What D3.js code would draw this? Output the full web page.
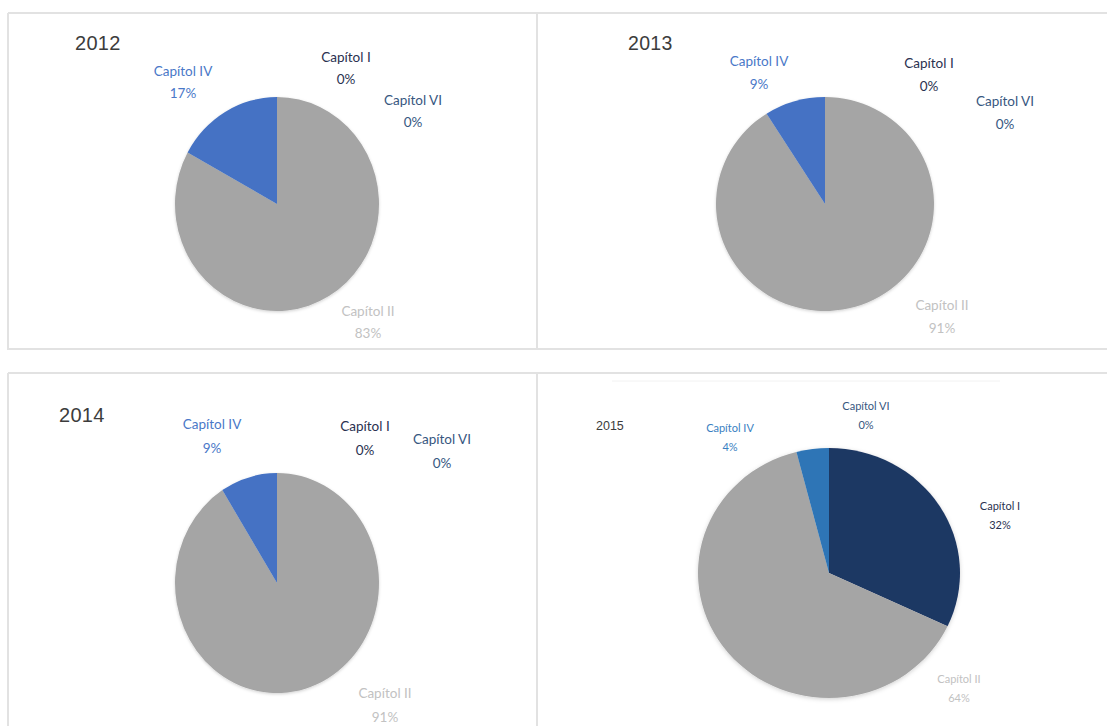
<!DOCTYPE html>
<html>
<head>
<meta charset="utf-8">
<script src="https://cdn.jsdelivr.net/npm/d3@7"></script>
<style>
  html, body { margin: 0; padding: 0; background: #ffffff; }
  svg { display: block; }
</style>
</head>
<body>
<svg id="chart" width="1107" height="726"></svg>
<script>
// ---- DATA ----
const categories = ["Capítol I", "Capítol II", "Capítol IV", "Capítol VI"];
const years = ["2012", "2013", "2014", "2015"];
const values2012 = [0, 83, 17, 0];
const values2013 = [0, 91, 9, 0];
const values2014 = [0, 91, 9, 0];
const values2015 = [32, 64, 4, 0];
const seriesValues = [values2012, values2013, values2014, values2015];

// ---- LAYOUT / STYLE (separate from data) ----
const layout = [
  { cx: 277, cy: 204, rx: 102, ry: 107, title: [75, 50, 20], font: 13.5, lh: 22,
    labels: [[69, -142], [91, 112], [-94, -128], [136, -99]] },
  { cx: 825, cy: 204, rx: 109, ry: 107, title: [628, 50, 19.5], font: 13.5, lh: 23,
    labels: [[104, -136], [117, 106], [-66, -138], [180, -98]] },
  { cx: 277, cy: 583, rx: 102, ry: 110, title: [59, 422, 20], font: 13.5, lh: 24,
    labels: [[88, -152], [108, 115], [-65, -154], [165, -139]] },
  { cx: 829, cy: 573, rx: 131, ry: 125, title: [596, 430, 12.5], font: 11, lh: 19,
    labels: [[171, -63], [130, 110], [-99, -141], [37, -163]] }
];
const sliceColors = [
  ["#203864", "#a5a5a5", "#4472c4", "#2e4f7f"],
  ["#203864", "#a5a5a5", "#4472c4", "#2e4f7f"],
  ["#203864", "#a5a5a5", "#4472c4", "#2e4f7f"],
  ["#1f3864", "#a5a5a5", "#2e75b6", "#2e4f7f"]
];
const labelColors = [
  ["#2a3150", "#c2c2c2", "#4a78c8", "#37577f"],
  ["#2a3150", "#c2c2c2", "#4a78c8", "#37577f"],
  ["#2a3150", "#c2c2c2", "#4a78c8", "#37577f"],
  ["#2a3150", "#c2c2c2", "#3a7fc2", "#37577f"]
];

const svg = d3.select("#chart");

const defs = svg.append("defs");
const f = defs.append("filter").attr("id", "soft").attr("x", "-10%").attr("y", "-10%")
  .attr("width", "120%").attr("height", "120%");
f.append("feDropShadow").attr("dx", 0).attr("dy", 1).attr("stdDeviation", 1.5)
  .attr("flood-color", "#000").attr("flood-opacity", 0.18);

// panel frames
const frame = svg.append("g").attr("fill", "none").attr("stroke", "#e2e2e2").attr("stroke-width", 2);
frame.append("path").attr("d", "M8,13 H1107 M8,13 V349 H1107 M537,13 V349");
frame.append("path").attr("d", "M8,373 H1107 M8,373 V726 M537,373 V726");
svg.append("line").attr("x1", 612).attr("x2", 1000).attr("y1", 381).attr("y2", 381)
  .attr("stroke", "#f2f2f2").attr("stroke-width", 1);

const pie = d3.pie().sort(null).value(d => d);
const arc = d3.arc().innerRadius(0).outerRadius(100);

years.forEach((yr, i) => {
  const L = layout[i];
  const vals = seriesValues[i];
  const g = svg.append("g").attr("transform", `translate(${L.cx},${L.cy})`);

  g.append("text")
    .attr("x", L.title[0] - L.cx).attr("y", L.title[1] - L.cy)
    .attr("font-family", "'Liberation Sans', Arial, sans-serif")
    .attr("font-size", L.title[2]).attr("fill", "#3c3c3c")
    .attr("letter-spacing", i < 3 ? 0.3 : 0)
    .text(yr);

  const pg = g.append("g").attr("transform", `scale(${L.rx / 100},${L.ry / 100})`)
    .attr("filter", "url(#soft)");
  pg.selectAll("path")
    .data(pie(vals))
    .join("path")
    .attr("d", arc)
    .attr("fill", (d, j) => sliceColors[i][j])
    .attr("stroke", "none");

  categories.forEach((c, j) => {
    const t = g.append("text")
      .attr("text-anchor", "middle")
      .attr("font-family", "Lato, 'Noto Sans', sans-serif")
      .attr("font-size", L.font)
      .attr("fill", labelColors[i][j])
      .attr("x", L.labels[j][0]).attr("y", L.labels[j][1]);
    t.append("tspan").attr("x", L.labels[j][0]).text(c);
    t.append("tspan").attr("x", L.labels[j][0]).attr("dy", L.lh).text(vals[j] + "%");
  });
});
</script>
</body>
</html>
